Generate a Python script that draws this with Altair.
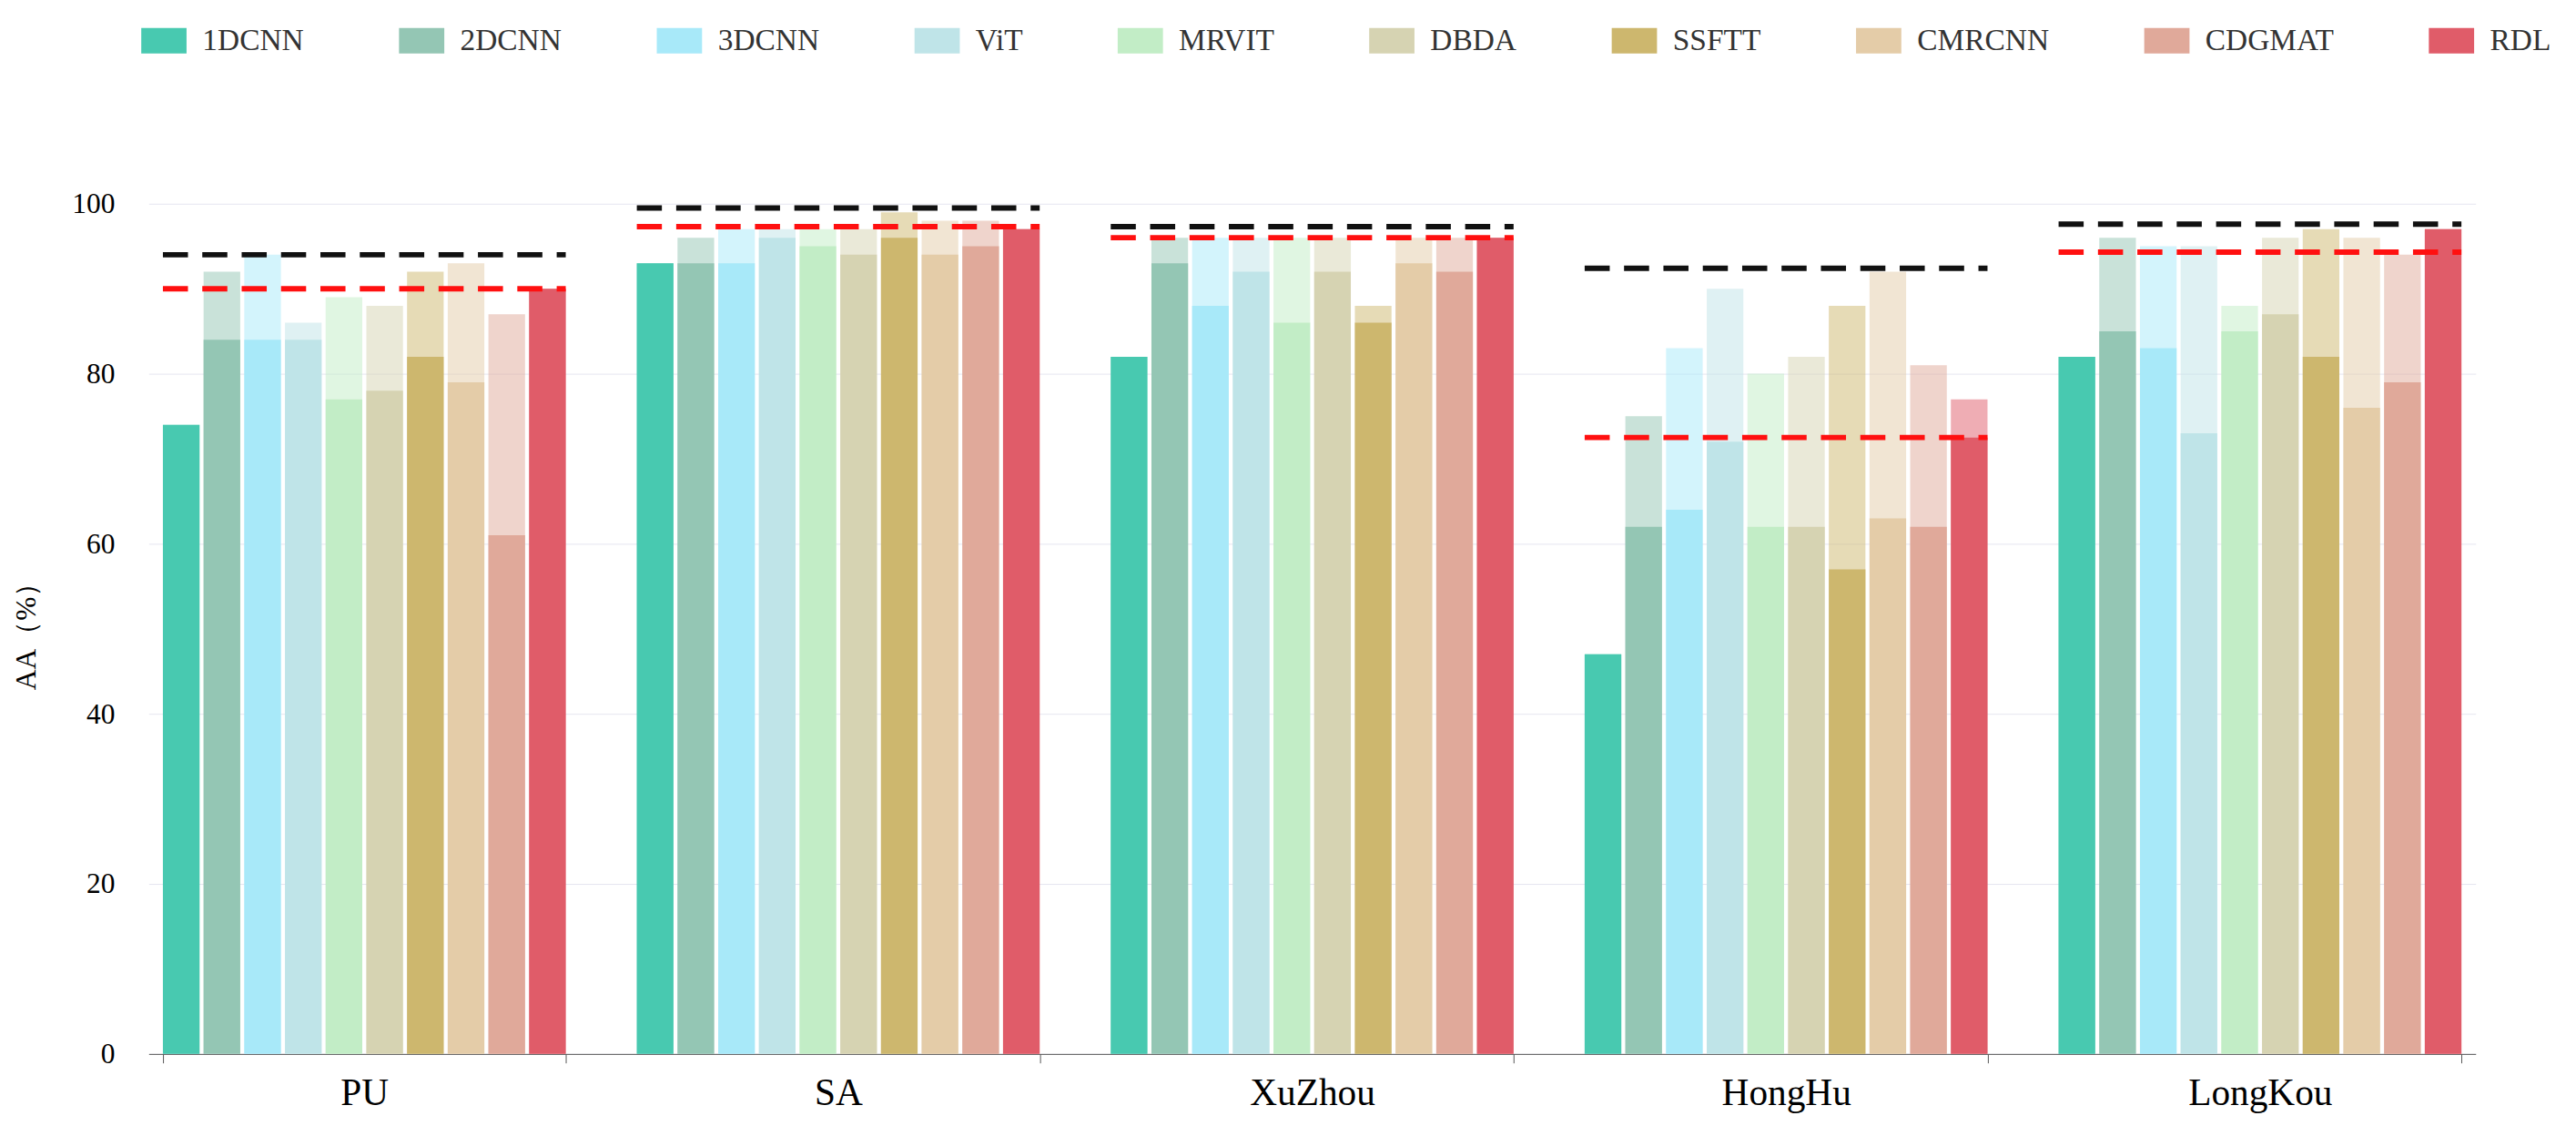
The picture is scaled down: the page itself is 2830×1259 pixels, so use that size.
import pandas as pd
import altair as alt

DATASETS = ["PU", "SA", "XuZhou", "HongHu", "LongKou"]
METHODS = ["1DCNN", "2DCNN", "3DCNN", "ViT", "MRVIT", "DBDA", "SSFTT", "CMRCNN", "CDGMAT", "RDL"]
COLORS = ["#48C9B0", "#94C6B4", "#A8E9F9", "#BFE4E8", "#C2EDC6",
          "#D6D3B2", "#CDB76E", "#E4CCA8", "#E0A99A", "#E05C69"]

# solid (lower) value per method, one list per dataset
LOWER = {
    "PU":      [74, 84, 84, 84, 77, 78, 82, 79, 61, 90],
    "SA":      [93, 93, 93, 96, 95, 94, 96, 94, 95, 97],
    "XuZhou":  [82, 93, 88, 92, 86, 92, 86, 93, 92, 96],
    "HongHu":  [47, 62, 64, 72, 62, 62, 57, 63, 62, 72.5],
    "LongKou": [82, 85, 83, 73, 85, 87, 82, 76, 79, 97],
}
# lighter (upper) value per method
UPPER = {
    "PU":      [74, 92, 94, 86, 89, 88, 92, 93, 87, 90],
    "SA":      [93, 96, 97, 97, 97, 97, 99, 98, 98, 97],
    "XuZhou":  [82, 96, 96, 96, 96, 96, 88, 96, 96, 96],
    "HongHu":  [47, 75, 83, 90, 80, 82, 88, 92, 81, 77],
    "LongKou": [82, 96, 95, 95, 88, 96, 97, 96, 94, 97],
}
BLACK_LINE = [94, 99.5, 97.3, 92.4, 97.6]
RED_LINE = [90, 97.3, 96, 72.5, 94.3]

FONT = "Liberation Serif"

rows = []
for ds in DATASETS:
    for m, lo, up in zip(METHODS, LOWER[ds], UPPER[ds]):
        rows.append({"Dataset": ds, "Method": m, "lower": lo, "upper": up})
bars = pd.DataFrame(rows)
lines = pd.DataFrame({"Dataset": DATASETS, "black": BLACK_LINE, "red": RED_LINE})

x = alt.X("Dataset:N", sort=DATASETS, title=None,
          scale=alt.Scale(paddingInner=0.15, paddingOuter=0.03),
          axis=alt.Axis(labelAngle=0, labelFontSize=42, labelFont=FONT, labelColor="#000",
                        domainColor="#555", tickColor="#555", tickBand="extent",
                        tickSize=10, labelPadding=14, grid=False))
xo = alt.XOffset("Method:N", sort=METHODS, scale=alt.Scale(paddingInner=0.1))
color = alt.Color("Method:N", sort=METHODS,
                  scale=alt.Scale(domain=METHODS, range=COLORS),
                  legend=alt.Legend(orient="top", direction="horizontal", columns=10,
                                    title=None, labelFont=FONT, labelFontSize=34,
                                    labelColor="#333", symbolType="M-1.6,-0.9H1.6V0.9H-1.6Z",
                                    symbolSize=1000, symbolOpacity=1, symbolStrokeWidth=0,
                                    columnPadding=105, labelOffset=26, offset=165))
y = alt.Y("upper:Q", title="AA（%）", scale=alt.Scale(domain=[0, 100]),
          axis=alt.Axis(values=[0, 20, 40, 60, 80, 100], labelFont=FONT, labelFontSize=32,
                        labelColor="#000", titleFont=FONT, titleFontSize=32,
                        titleFontWeight="normal", titleColor="#000", titlePadding=34,
                        domain=False, ticks=False, gridColor="#E6E6F0", labelPadding=38))

base = alt.Chart(bars)
upper = base.mark_bar(opacity=0.5).encode(x=x, xOffset=xo, y=y, color=color)
lower = base.mark_bar().encode(x=x, xOffset=xo, y=alt.Y("lower:Q"), color=color)

def dash_line(field, col):
    return alt.Chart(lines).mark_rule(color=col, strokeWidth=6, strokeDash=[28, 16]).encode(
        x=alt.X("Dataset:N", sort=DATASETS, bandPosition=0),
        x2=alt.X2("Dataset:N", bandPosition=1),
        y=alt.Y(f"{field}:Q"),
    )

chart = alt.layer(upper, lower, dash_line("black", "#111"), dash_line("red", "#FF1010")).properties(
    width=2600, height=950, background="white", padding={"left": 5, "top": 10, "right": 20, "bottom": 5}
).configure_view(stroke=None)

chart.save("out.html", embed_options={"renderer": "svg", "actions": False})
